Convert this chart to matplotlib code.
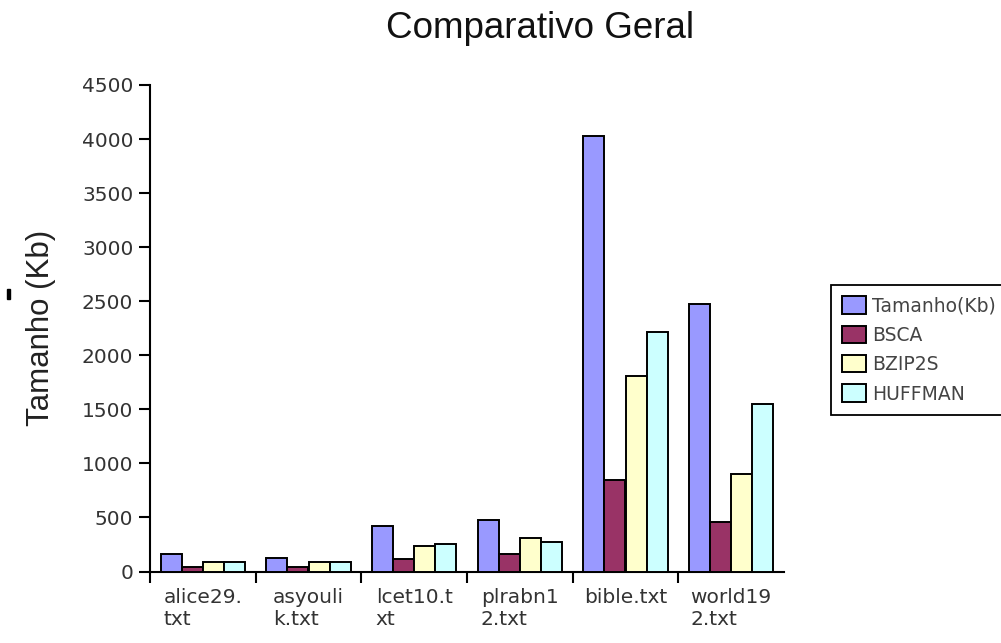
import matplotlib
matplotlib.use("Agg")
import matplotlib.pyplot as plt
from matplotlib.patches import Rectangle
import numpy as np

categories = ["alice29.\ntxt", "asyouli\nk.txt", "lcet10.t\nxt", "plrabn1\n2.txt", "bible.txt", "world19\n2.txt"]
series_names = ["Tamanho(Kb)", "BSCA", "BZIP2S", "HUFFMAN"]
tamanho = [165, 122, 418, 476, 4031, 2477]
bsca = [44, 40, 118, 159, 846, 455]
bzip2s = [88, 88, 233, 307, 1806, 899]
huffman = [88, 88, 254, 273, 2215, 1547]
colors = ["#9999FF", "#993366", "#FFFFCC", "#CCFFFF"]
yticks = [0, 500, 1000, 1500, 2000, 2500, 3000, 3500, 4000, 4500]

W, H = 1001, 643
fig = plt.figure(figsize=(W / 100, H / 100), dpi=100)
ax = fig.add_axes([150 / W, 1 - 571.5 / H, 634 / W, (571.5 - 85) / H])

x = np.arange(len(categories))
bw = 0.2
data = [tamanho, bsca, bzip2s, huffman]
for i, (vals, name, c) in enumerate(zip(data, series_names, colors)):
    ax.bar(x - 0.3 + i * bw, vals, width=bw, color=c, edgecolor="black",
           linewidth=1.4, label=name, zorder=3)

ax.set_xlim(-0.5, len(categories) - 0.5)
ax.set_ylim(0, 4500)
ax.set_yticks(yticks)
ax.set_yticklabels([str(v) for v in yticks])

ax.set_xticks(x)
ax.set_xticklabels(categories)
ax.set_xticks(np.arange(len(categories)) - 0.5, minor=True)
ax.tick_params(axis="x", which="major", length=0, pad=12, labelsize=14.5,
               labelcolor="#333333")
ax.tick_params(axis="x", which="minor", length=8, width=1.5, direction="out",
               color="black")
ax.tick_params(axis="y", which="major", length=8, width=1.5, direction="out",
               pad=4, labelsize=14.5, labelcolor="#333333")
for t in ax.get_xticklabels():
    t.set_multialignment("left")
    t.set_fontfamily("DejaVu Sans")
for t in ax.get_yticklabels():
    t.set_fontfamily("DejaVu Sans")

for s in ["top", "right"]:
    ax.spines[s].set_visible(False)
for s in ["left", "bottom"]:
    ax.spines[s].set_linewidth(1.5)
    ax.spines[s].set_color("black")

ax.set_ylabel("Tamanho (Kb)", fontsize=22.5, family="Liberation Sans", color="#222222")
ax.yaxis.set_label_coords(-0.148, 0.5)

fig.text(540 / W, 1 - 38 / H, "Comparativo Geral", ha="center", va="baseline",
         fontsize=26.5, family="Liberation Sans", color="#111111")

leg = fig.legend(loc="upper left", bbox_to_anchor=(831 / W, 1 - 285 / H),
                 borderaxespad=0, frameon=True, fancybox=False, framealpha=1,
                 edgecolor="black", prop={"family": "DejaVu Sans", "size": 13.5},
                 handlelength=1.25, handleheight=1.05, handletextpad=0.35,
                 labelspacing=0.55, borderpad=0.6)
leg.get_frame().set_linewidth(1.3)
for t in leg.get_texts():
    t.set_color("#444444")

# small dark mark at the left edge, as in the reference
fig.patches.append(Rectangle((6.5 / W, 1 - 299 / H), 3 / W, 10 / H,
                             transform=fig.transFigure, color="black"))

fig.savefig("out.png", dpi=100)
